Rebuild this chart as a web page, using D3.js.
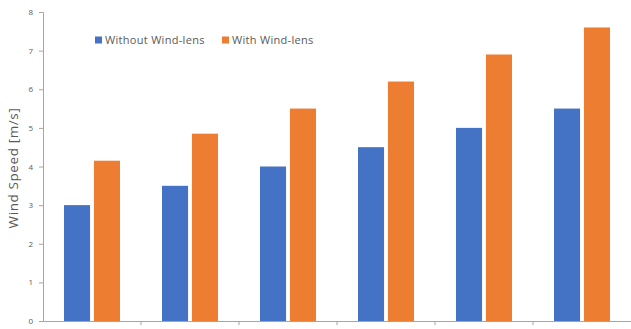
<html lang="en">
<head>
  <meta charset="UTF-8">
  <title>Wind Speed</title>
  <style>
    body { margin: 0; background: #fff; }
    text { font-family: "Open Sans", "Liberation Sans", sans-serif; }
  </style>
</head>
<body>
  <script src="https://d3js.org/d3.v7.min.js"></script>
  <div id="chart"></div>
  <script>
    // data
    const groups = ["1", "2", "3", "4", "5", "6"];
    const withoutLens = [3.0, 3.5, 4.0, 4.5, 5.0, 5.5];
    const withLens = [4.15, 4.85, 5.5, 6.2, 6.9, 7.6];
    const seriesNames = ["Without Wind-lens", "With Wind-lens"];
    const yTicks = [0, 1, 2, 3, 4, 5, 6, 7, 8];

    const colours = ["#4472C4", "#ED7D31"];
    const width = 631, height = 329;
    const margin = { top: 12, right: 0, bottom: 8, left: 43 };

    const svg = d3.select("#chart").append("svg")
      .attr("width", width)
      .attr("height", height);

    const x = d3.scaleBand()
      .domain(groups)
      .range([margin.left, width - margin.right])
      .paddingInner(0)
      .paddingOuter(0);

    const xInner = d3.scaleBand()
      .domain(seriesNames)
      .range([21, x.bandwidth() - 21])
      .paddingInner(0.13);

    const y = d3.scaleLinear()
      .domain([0, 8])
      .range([height - margin.bottom, margin.top]);

    // bars
    const rows = groups.map((g, i) => ({ g: g, vals: [withoutLens[i], withLens[i]] }));
    const grp = svg.selectAll("g.grp")
      .data(rows)
      .enter()
      .append("g")
      .attr("class", "grp")
      .attr("transform", d => "translate(" + x(d.g) + ",0)");

    grp.selectAll("rect")
      .data(d => d.vals.map((v, k) => ({ name: seriesNames[k], v: v, k: k })))
      .enter()
      .append("rect")
      .attr("x", d => xInner(d.name))
      .attr("width", xInner.bandwidth())
      .attr("y", d => y(d.v))
      .attr("height", d => y(0) - y(d.v))
      .attr("fill", d => colours[d.k]);

    // y axis
    const yAxis = svg.append("g")
      .attr("transform", "translate(" + margin.left + ",0)")
      .call(d3.axisLeft(y).tickValues(yTicks).tickSize(4).tickPadding(6));
    yAxis.select(".domain").attr("stroke", "#a6a6a6");
    yAxis.selectAll(".tick line").attr("stroke", "#a6a6a6");
    yAxis.selectAll(".tick text").attr("fill", "#595959").style("font-size", "8px");

    // x axis (no labels visible in the crop)
    const xAxis = svg.append("g")
      .attr("transform", "translate(0," + y(0) + ")")
      .call(d3.axisBottom(x).tickSize(0).tickFormat(""));
    xAxis.select(".domain").attr("stroke", "#a6a6a6");
    xAxis.selectAll(".tick").remove();
    xAxis.selectAll("line.sep")
      .data(groups.slice(1))
      .enter()
      .append("line")
      .attr("class", "sep")
      .attr("x1", d => x(d))
      .attr("x2", d => x(d))
      .attr("y1", 0)
      .attr("y2", 4)
      .attr("stroke", "#a6a6a6");

    // y label
    svg.append("text")
      .attr("transform", "translate(18,168) rotate(-90)")
      .attr("text-anchor", "middle")
      .attr("fill", "#595959")
      .style("font-size", "13.5px")
      .style("letter-spacing", "0.6px")
      .text("Wind Speed [m/s]");

    // legend
    const legendX = [95, 222];
    const legend = svg.selectAll("g.legend")
      .data(seriesNames)
      .enter()
      .append("g")
      .attr("class", "legend")
      .attr("transform", (d, i) => "translate(" + legendX[i] + ",40)");
    legend.append("rect")
      .attr("x", 0).attr("y", -3.5)
      .attr("width", 7).attr("height", 7)
      .attr("fill", (d, i) => colours[i]);
    legend.append("text")
      .attr("x", 10).attr("y", 4)
      .attr("fill", "#595959")
      .style("font-size", "11px")
      .style("letter-spacing", "0.3px")
      .text(d => d);
  </script>
</body>
</html>
